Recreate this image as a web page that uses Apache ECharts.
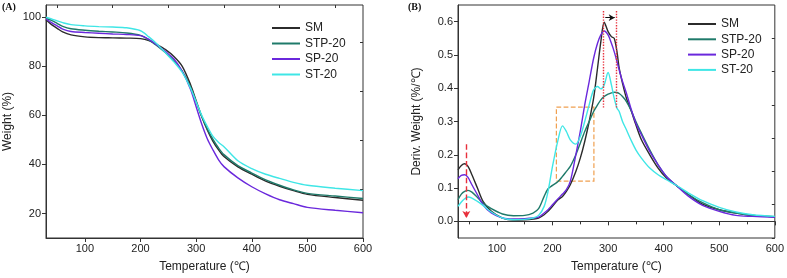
<!DOCTYPE html>
<html>
<head>
<meta charset="utf-8">
<script src="https://cdn.jsdelivr.net/npm/echarts@6/dist/echarts.min.js"></script>
<style>
  html, body { margin: 0; padding: 0; background: #fff; }
  #chart { width: 787px; height: 278px; }
</style>
</head>
<body>
<div id="chart"></div>
<script>
// names + colours
var names = ['SM', 'STP-20', 'SP-20', 'ST-20'];
var colors = ['#2b2b2b', '#1f7a6a', '#6a28dc', '#3fe6e6'];

// (A) TGA, weight %
var tgaTemps = [30, 40, 50, 60, 75, 100, 125, 150, 175, 200, 215, 230, 245, 260, 275, 290, 300, 310, 320, 330, 340, 350, 375, 400, 425, 450, 475, 500, 550, 600];
var tgaSM  = [99, 97, 95.5, 94, 92.8, 92, 91.7, 91.6, 91.5, 91.3, 90.5, 88.8, 86.8, 84, 80, 72.5, 66, 59.5, 54, 49.5, 46, 43.2, 39, 36, 33.2, 31.1, 29.3, 27.8, 26.5, 25.4];
var tgaSTP = [99.6, 98.7, 97.5, 96.3, 95.3, 94.7, 94.3, 94, 93.6, 92.6, 90.8, 88.3, 85.5, 82.3, 78, 71.5, 65.5, 59.5, 54.5, 50.3, 46.8, 44, 39.5, 36.5, 33.7, 31.5, 29.6, 28.2, 27.1, 26.1];
var tgaSP  = [99.3, 97.8, 96.5, 95.2, 94.2, 93.8, 93.5, 93.2, 93, 92.5, 91, 88.6, 86, 83, 78, 70.5, 63.5, 56.5, 50.5, 46, 42, 39.1, 34.5, 30.9, 28, 25.6, 24, 22.5, 21.3, 20.3];
var tgaST  = [100, 99.3, 98.5, 97.8, 97, 96.5, 96.2, 96, 95.7, 94.5, 92, 89, 85.5, 81.8, 77.5, 71, 65.5, 60, 55.5, 51.5, 49, 47.2, 41.5, 38.3, 36, 34.3, 32.7, 31.5, 30.3, 29.3];

// (B) DTG, %/C
var dtgTemps = [30, 36, 42, 48, 55, 65, 75, 90, 110, 130, 150, 165, 175, 185, 192, 200, 210, 218, 225, 232, 242, 250, 258, 266, 274, 281, 287, 293, 300, 306, 311, 316, 320, 326, 333, 341, 350, 360, 375, 390, 405, 424, 445, 470, 500, 530, 560, 600];
var dtgSM  = [0.155, 0.168, 0.173, 0.165, 0.14, 0.1, 0.06, 0.03, 0.01, 0.004, 0.005, 0.007, 0.01, 0.02, 0.03, 0.045, 0.065, 0.075, 0.09, 0.11, 0.15, 0.19, 0.24, 0.3, 0.37, 0.46, 0.54, 0.598, 0.57, 0.555, 0.55, 0.51, 0.46, 0.415, 0.37, 0.335, 0.29, 0.245, 0.2, 0.16, 0.13, 0.106, 0.08, 0.052, 0.035, 0.025, 0.018, 0.014];
var dtgSTP = [0.065, 0.082, 0.09, 0.093, 0.088, 0.072, 0.055, 0.038, 0.022, 0.017, 0.018, 0.025, 0.038, 0.075, 0.098, 0.108, 0.12, 0.135, 0.15, 0.165, 0.2, 0.235, 0.27, 0.3, 0.33, 0.35, 0.365, 0.375, 0.382, 0.386, 0.388, 0.387, 0.384, 0.375, 0.36, 0.335, 0.3, 0.265, 0.215, 0.17, 0.135, 0.106, 0.08, 0.056, 0.035, 0.025, 0.018, 0.014];
var dtgSP  = [0.128, 0.138, 0.14, 0.132, 0.11, 0.08, 0.05, 0.025, 0.01, 0.007, 0.008, 0.01, 0.013, 0.025, 0.035, 0.05, 0.068, 0.082, 0.095, 0.12, 0.2, 0.27, 0.35, 0.42, 0.49, 0.535, 0.56, 0.572, 0.56, 0.535, 0.51, 0.48, 0.455, 0.42, 0.385, 0.34, 0.295, 0.26, 0.21, 0.17, 0.135, 0.106, 0.075, 0.048, 0.03, 0.018, 0.015, 0.012];
var dtgST  = [0.045, 0.058, 0.068, 0.073, 0.07, 0.06, 0.048, 0.028, 0.01, 0.005, 0.006, 0.01, 0.018, 0.045, 0.09, 0.165, 0.245, 0.287, 0.27, 0.245, 0.232, 0.255, 0.3, 0.35, 0.395, 0.405, 0.398, 0.41, 0.447, 0.41, 0.37, 0.34, 0.33, 0.3, 0.275, 0.245, 0.215, 0.19, 0.16, 0.14, 0.125, 0.107, 0.085, 0.062, 0.042, 0.028, 0.02, 0.015];

// ticks (major outward with labels, minor inward)
var tempLabels = [100, 200, 300, 400, 500, 600];
var tempMinor = [50, 150, 250, 350, 450, 550];
var weightLabels = [20, 40, 60, 80, 100];
var weightMinor = [10, 30, 50, 70, 90];
var derivLabels = [0, 0.1, 0.2, 0.3, 0.4, 0.5, 0.6];
var derivMinor = [-0.05, 0.05, 0.15, 0.25, 0.35, 0.45, 0.55];

function pairs(xs, ys) {
  return xs.map(function (x, i) { return [x, ys[i]]; });
}

var tgaData = [tgaSM, tgaSTP, tgaSP, tgaST];
var dtgData = [dtgSM, dtgSTP, dtgSP, dtgST];

var font = 'Liberation Sans, Arial, sans-serif';
var axisLine = { show: true, lineStyle: { color: '#333', width: 1 } };
var labelStyle = { color: '#222', fontSize: 11, fontFamily: font };
var nameStyle = { color: '#222', fontSize: 12, fontFamily: font };

var red = '#e8303c';
var orange = '#f0a050';

function mainAxis(grid, min, max, name, gap, labels, fmt) {
  var a = {
    type: 'value', gridIndex: grid, min: min, max: max,
    name: name, nameLocation: 'middle', nameGap: gap, nameTextStyle: nameStyle,
    axisLine: axisLine,
    axisTick: { show: true, length: 4, customValues: labels, lineStyle: { color: '#333' } },
    axisLabel: { customValues: labels, margin: 5, color: '#222', fontSize: 11, fontFamily: font },
    splitLine: { show: false }
  };
  if (fmt) a.axisLabel.formatter = fmt;
  return a;
}
function minorAxis(grid, min, max, ticks) {
  return {
    type: 'value', gridIndex: grid, min: min, max: max,
    axisLine: { show: false },
    axisTick: { show: true, inside: true, length: 3, customValues: ticks, lineStyle: { color: '#333' } },
    axisLabel: { show: false },
    splitLine: { show: false }
  };
}

var series = [];
for (var i = 0; i < names.length; i++) {
  series.push({
    name: names[i],
    type: 'line',
    xAxisIndex: 0, yAxisIndex: 0,
    showSymbol: false,
    smooth: 0.3,
    lineStyle: { width: 1.4, color: colors[i] },
    itemStyle: { color: colors[i] },
    data: pairs(tgaTemps, tgaData[i])
  });
}
for (var j = 0; j < names.length; j++) {
  var s = {
    name: names[j],
    type: 'line',
    xAxisIndex: 1, yAxisIndex: 1,
    showSymbol: false,
    smooth: 0.3,
    lineStyle: { width: 1.4, color: colors[j] },
    itemStyle: { color: colors[j] },
    data: pairs(dtgTemps, dtgData[j])
  };
  if (j === 0) {
    // annotations on panel B
    s.markLine = {
      silent: true,
      symbol: 'none',
      label: { show: false },
      animation: false,
      data: [
        [{ coord: [292, 0.632], lineStyle: { color: red, type: 'dotted', width: 1.4 } }, { coord: [292, 0.34] }],
        [{ coord: [314.5, 0.632], lineStyle: { color: red, type: 'dotted', width: 1.4 } }, { coord: [314.5, 0.34] }],
        [{ coord: [295, 0.612], symbol: 'none', lineStyle: { color: '#111', type: 'solid', width: 1 } },
         { coord: [312, 0.612], symbol: 'arrow', symbolSize: [5, 6] }],
        [{ coord: [45, 0.232], symbol: 'none', lineStyle: { color: red, type: 'dashed', width: 1.4 } },
         { coord: [45, 0.01], symbol: 'arrow', symbolSize: [6, 7] }]
      ]
    };
    s.markArea = {
      silent: true,
      animation: false,
      itemStyle: { color: 'rgba(0,0,0,0)', borderColor: orange, borderType: 'dashed', borderWidth: 1.2 },
      data: [[{ coord: [207, 0.343] }, { coord: [274.5, 0.121] }]]
    };
  }
  series.push(s);
}

var chart = echarts.init(document.getElementById('chart'));
chart.setOption({
  animation: false,
  title: [
    { text: '(A)', left: 2, top: 2, padding: 0, textStyle: { fontSize: 10, fontWeight: 'bold', fontFamily: 'Liberation Serif, serif', color: '#111' } },
    { text: '(B)', left: 408, top: 2, padding: 0, textStyle: { fontSize: 10, fontWeight: 'bold', fontFamily: 'Liberation Serif, serif', color: '#111' } }
  ],
  legend: [
    {
      data: names, orient: 'vertical', left: 272, top: 21, padding: 0,
      icon: 'rect', itemWidth: 28, itemHeight: 2, itemGap: 1.5,
      textStyle: { fontSize: 12, fontFamily: font, color: '#222', lineHeight: 14 },
      selectedMode: false
    },
    {
      data: names, orient: 'vertical', left: 688, top: 17, padding: 0,
      icon: 'rect', itemWidth: 28, itemHeight: 2, itemGap: 1.3,
      textStyle: { fontSize: 12, fontFamily: font, color: '#222', lineHeight: 14 },
      selectedMode: false
    }
  ],
  grid: [
    { left: 46, right: 424, top: 5, bottom: 38, show: true, borderColor: '#333', borderWidth: 1 },
    { left: 458, right: 10, top: 5, bottom: 39, show: true, borderColor: '#333', borderWidth: 1 }
  ],
  xAxis: [
    mainAxis(0, 30, 600, 'Temperature (\u2103)', 23, tempLabels),
    mainAxis(1, 30, 600, 'Temperature (\u2103)', 23, tempLabels),
    minorAxis(0, 30, 600, tempMinor),
    minorAxis(1, 30, 600, tempMinor)
  ],
  yAxis: [
    mainAxis(0, 10, 105, 'Weight (%)', 32, weightLabels),
    mainAxis(1, -0.05, 0.65, 'Deriv. Weight (%/\u2103)', 35, derivLabels, function (v) { return v.toFixed(1); }),
    minorAxis(0, 10, 105, weightMinor),
    minorAxis(1, -0.05, 0.65, derivMinor)
  ],
  series: series
});
</script>
</body>
</html>
